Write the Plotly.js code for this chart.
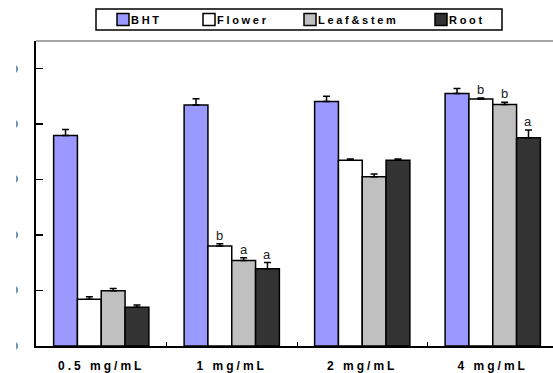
<!DOCTYPE html>
<html>
<head>
<meta charset="utf-8">
<script src="https://cdn.plot.ly/plotly-3.0.1.min.js"></script>
<style>
  html, body { margin: 0; padding: 0; background: #fff; }
  #chart { width: 553px; height: 373px; }
  .xtick text { letter-spacing: 3px; }
  .legendtext, .legend2text, .legend3text, .legend4text {
    letter-spacing: 2.7px; transform: translateX(-12px);
  }
</style>
</head>
<body>
<div id="chart"></div>
<script>
// ---- data ----
const categories = ["0.5 mg/mL", "1 mg/mL", "2 mg/mL", "4 mg/mL"];
const seriesNames = ["BHT", "Flower", "Leaf&stem", "Root"];
const bhtValues   = [75.9, 86.9, 88.2, 91.1];
const bhtErr      = [2.2, 2.3, 1.9, 1.8];
const flowerValues = [16.9, 36.1, 67.0, 89.1];
const flowerErr    = [0.9, 0.8, 0.4, 0.3];
const leafValues   = [19.9, 30.8, 61.0, 87.1];
const leafErr      = [0.8, 1.0, 1.0, 0.8];
const rootValues   = [14.0, 27.9, 67.0, 75.1];
const rootErr      = [0.8, 2.2, 0.4, 2.8];
const bhtLetters    = ["", "", "", ""];
const flowerLetters = ["", "b", "", "b"];
const leafLetters   = ["", "a", "", "b"];
const rootLetters   = ["", "a", "", "a"];
const yTickVals = [0, 20, 40, 60, 80, 100];

// ---- styling / layout ----
const colors = ["#9999FF", "#FFFFFF", "#C0C0C0", "#333333"];
const bargap = 0.27;
const W = 553, H = 373;
const M = { l: 36, r: 0, t: 41, b: 27 };
const plotW = W - M.l - M.r, plotH = H - M.t - M.b;
const px2x = p => (p - M.l) / plotW;          // page px -> paper x
const py2y = p => (H - M.b - p) / plotH;      // page px -> paper y
const legendLeftPx = [103, 189, 290, 421];     // left edge of each legend entry
const legendIds = ["legend", "legend2", "legend3", "legend4"];

const values = [bhtValues, flowerValues, leafValues, rootValues];
const errs = [bhtErr, flowerErr, leafErr, rootErr];
const letters = [bhtLetters, flowerLetters, leafLetters, rootLetters];

const traces = seriesNames.map((name, k) => ({
  type: "bar",
  name: name,
  legend: legendIds[k],
  x: categories,
  y: values[k],
  marker: { color: colors[k], line: { color: "#000", width: 1.5 } },
  error_y: {
    type: "data", symmetric: false,
    array: errs[k], arrayminus: errs[k].map(() => 0),
    color: "#000", thickness: 1.5, width: 3.5
  }
}));

const annotations = [];
const slot = (1 - bargap) / seriesNames.length;
letters.forEach((arr, k) => {
  arr.forEach((t, i) => {
    if (!t) return;
    annotations.push({
      xref: "x", yref: "y",
      x: i + (k - (seriesNames.length - 1) / 2) * slot,
      y: values[k][i] + errs[k][i],
      text: t, showarrow: false, yanchor: "bottom", yshift: -1,
      font: { family: "Liberation Sans, Arial, sans-serif", size: 13, color: "#222" }
    });
  });
});

const legendFont = { family: "Liberation Sans, Arial, sans-serif", size: 11, color: "#000", weight: "bold" };

const layout = {
  width: W, height: H,
  margin: { l: M.l, r: M.r, t: M.t, b: M.b, pad: 0 },
  paper_bgcolor: "#fff", plot_bgcolor: "#fff",
  barmode: "group", bargap: bargap, bargroupgap: 0,
  showlegend: true,
  xaxis: {
    type: "category", range: [-0.5, -0.5 + plotW / 130.5],
    showline: true, linecolor: "#000", linewidth: 1.5,
    ticks: "inside", tickson: "boundaries", ticklen: 4, tickwidth: 1, tickcolor: "#000",
    showgrid: false, zeroline: false, ticklabelstandoff: 8,
    tickfont: { family: "Liberation Sans, Arial, sans-serif", size: 12, color: "#000", weight: "bold" }
  },
  yaxis: {
    range: [0, 110], tickvals: yTickVals,
    showline: true, linecolor: "#000", linewidth: 2,
    ticks: "inside", ticklen: 7, tickwidth: 1.5, tickcolor: "#000",
    showgrid: false, zeroline: false, ticklabelstandoff: 14,
    tickfont: { family: "Liberation Sans, Arial, sans-serif", size: 11, color: "#000", weight: "bold" }
  },
  shapes: [
    { type: "line", xref: "paper", yref: "paper", x0: 0, x1: 1, y0: 1, y1: 1,
      line: { color: "#888", width: 1.5 } },
    { type: "rect", xref: "paper", yref: "paper", layer: "above",
      x0: px2x(0), x1: px2x(16.5), y0: -0.02, y1: 1.0,
      fillcolor: "#fff", line: { width: 0 } },
    { type: "rect", xref: "paper", yref: "paper", layer: "above",
      x0: px2x(96), x1: px2x(502), y0: py2y(30), y1: py2y(9),
      fillcolor: "rgba(0,0,0,0)", line: { color: "#000", width: 1.5 } }
  ],
  annotations: annotations
};

legendIds.forEach((id, k) => {
  layout[id] = {
    orientation: "h", x: px2x(legendLeftPx[k]), xanchor: "left",
    y: py2y(19.5), yanchor: "middle",
    borderwidth: 0, bgcolor: "rgba(0,0,0,0)", itemwidth: 30,
    font: legendFont
  };
});

Plotly.newPlot("chart", traces, layout, { staticPlot: true, displayModeBar: false });
</script>
</body>
</html>
